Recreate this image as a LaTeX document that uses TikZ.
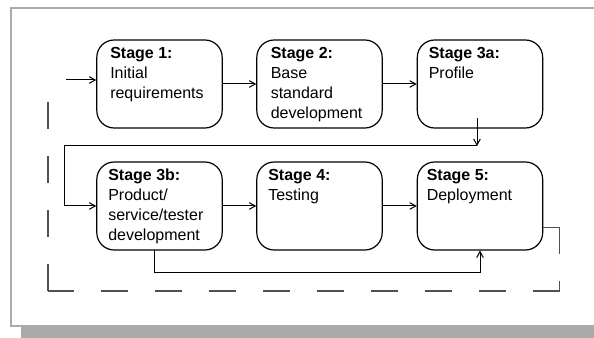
\documentclass[tikz,border=0pt]{standalone}
\usepackage{fontspec}
\setmainfont{Liberation Sans}
\usetikzlibrary{arrows.meta}
\definecolor{framegray}{RGB}{170,170,170}
\definecolor{dashgray}{RGB}{80,80,80}
\tikzset{
  stagebox/.style={draw=black, line width=0.9pt, rounded corners=13pt,
    minimum width=94pt, minimum height=66pt, inner sep=0pt},
  stagetext/.style={anchor=north west, inner sep=0pt, align=left,
    font=\fontsize{12pt}{15pt}\selectfont},
  conn/.style={draw=black, line width=0.75pt},
  arr/.style={conn, -{Straight Barb[length=4.5pt,width=5pt]}},
  dline/.style={draw=dashgray, line width=0.8pt, dash pattern=on 20pt off 20.5pt}
}
\begin{document}
\begin{tikzpicture}[x=0.75pt,y=-0.75pt]
\useasboundingbox (0,0) rectangle (594,338);
% frame and shadow
\fill[framegray] (21,326) rectangle (594,338);
\draw[framegray, line width=1.9pt] (594,7.9) -- (11.2,7.9) -- (11.2,326.2) -- (594,326.2);
% boxes
\node[stagebox] (s1)  at (159.5,84) {};
\node[stagebox] (s2)  at (319.5,84) {};
\node[stagebox] (s3a) at (480,84) {};
\node[stagebox] (s3b) at (159.5,206) {};
\node[stagebox] (s4)  at (319.5,206) {};
\node[stagebox] (s5)  at (480,206) {};
% texts
\node[stagetext] (t1)  at (110,47.5) {\textbf{Stage 1:}\\Initial\\requirements};
\node[stagetext] (t2)  at (270.5,47.5) {\textbf{Stage 2:}\\Base\\standard\\development};
\node[stagetext] (t3a) at (428.5,47.5) {\textbf{Stage 3a:}\\Profile};
\node[stagetext] (t3b) at (108,169) {\textbf{Stage 3b:}\\Product/\\service/tester\\development};
\node[stagetext] (t4)  at (268,169.5) {\textbf{Stage 4:}\\Testing};
\node[stagetext] (t5)  at (426.5,169) {\textbf{Stage 5:}\\Deployment};
% connectors
\coordinate (in1) at (66,80);
\draw[arr] (in1) -- (in1 -| s1.west);
\draw[arr] (s1.east) -- (s2.west);
\draw[arr] (s2.east) -- (s3a.west);
\coordinate (d3a) at (477,118);
\coordinate (d3b) at (477,146);
\draw[arr] (d3a) -- (d3b);
\coordinate (r1) at (477,145.5);
\coordinate (r2) at (64,145.5);
\draw[conn] (r1) -- (r2) -- (r2 |- s3b.west);
\draw[arr] (r2 |- s3b.west) -- (s3b.west);
\draw[arr] (s3b.east) -- (s4.west);
\draw[arr] (s4.east) -- (s5.west);
\coordinate (b1) at (154,250);
\coordinate (b2) at (154,273);
\draw[arr] (b1) -- (b2) -| (s5.south);
% dashed feedback path
\coordinate (e0) at (543,227.5);
\coordinate (e1) at (559.5,227.5);
\coordinate (e2) at (559.5,291);
\coordinate (e3) at (48,291);
\coordinate (e4) at (48,96);
\draw[dline] (e0) -- (e1);
\draw[dline] (e1) -- (e2);
\draw[dline] (e2) -- (e3);
\draw[dline] (e3) -- (e4);
\end{tikzpicture}
\end{document}
